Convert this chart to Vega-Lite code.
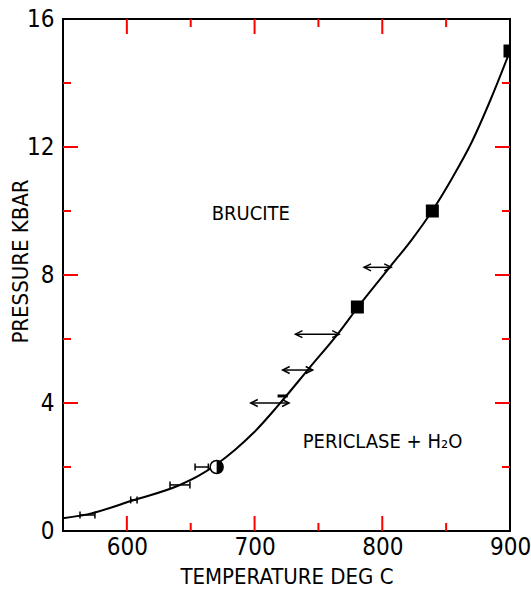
{
  "$schema": "https://vega.github.io/schema/vega-lite/v6.json",
  "width": 447,
  "height": 512,
  "autosize": {"type": "none"},
  "padding": {"left": 63, "top": 19, "right": 21, "bottom": 64},
  "background": "white",
  "config": {
    "view": {"stroke": "black", "strokeWidth": 2},
    "axis": {
      "grid": false, "domain": false, "labelFlush": false,
      "labelFont": "DejaVu Sans Condensed", "labelFontSize": 24, "labelColor": "black",
      "titleFont": "DejaVu Sans Condensed", "titleFontSize": 22, "titleFontWeight": "normal", "titleColor": "black"
    }
  },
  "datasets": {
    "curve": [
      {"t": 550, "p": 0.40}, {"t": 569, "p": 0.52}, {"t": 605, "p": 0.96}, {"t": 641, "p": 1.43},
      {"t": 656, "p": 1.72}, {"t": 670, "p": 2.08}, {"t": 685, "p": 2.55}, {"t": 700, "p": 3.1},
      {"t": 718, "p": 3.9}, {"t": 743, "p": 5.1}, {"t": 766, "p": 6.2}, {"t": 781, "p": 7.0},
      {"t": 807, "p": 8.3}, {"t": 823, "p": 9.1}, {"t": 839, "p": 10.0}, {"t": 855, "p": 11.05},
      {"t": 870, "p": 12.15}, {"t": 885, "p": 13.5}, {"t": 900, "p": 15.0}
    ],
    "xticks": [
      {"v": 600, "kind": "major"}, {"v": 650, "kind": "minor"}, {"v": 700, "kind": "major"},
      {"v": 750, "kind": "minor"}, {"v": 800, "kind": "major"}, {"v": 850, "kind": "minor"}
    ],
    "yticks": [
      {"v": 2, "kind": "minor"}, {"v": 4, "kind": "major"}, {"v": 6, "kind": "minor"}, {"v": 8, "kind": "major"},
      {"v": 10, "kind": "minor"}, {"v": 12, "kind": "major"}, {"v": 14, "kind": "minor"}
    ],
    "errs": [
      {"x1": 563.3, "x2": 575, "y": 0.5},
      {"x1": 603, "x2": 608, "y": 0.97},
      {"x1": 633.8, "x2": 649.4, "y": 1.44},
      {"x1": 653.4, "x2": 663.8, "y": 2.0}
    ],
    "arrows": [
      {"x1": 697, "x2": 727, "y": 4.0},
      {"x1": 722, "x2": 745.5, "y": 5.03},
      {"x1": 732, "x2": 766.3, "y": 6.15},
      {"x1": 785.7, "x2": 807, "y": 8.24}
    ],
    "bar": [{"x1": 718, "x2": 726, "y": 4.22}],
    "squares": [{"t": 780.5, "p": 7.0}, {"t": 839.2, "p": 10.0}, {"t": 900, "p": 15.0}],
    "circle": [{"t": 670.3, "p": 2.0}],
    "labels": [
      {"t": 666.4, "p": 9.72, "text": "BRUCITE"},
      {"t": 737.7, "p": 2.6, "text": "PERICLASE + H₂O"}
    ]
  },
  "resolve": {"axis": {"x": "independent", "y": "independent"}},
  "layer": [
    {
      "data": {"name": "curve"},
      "mark": {"type": "line", "color": "black", "strokeWidth": 2, "interpolate": "monotone"},
      "encoding": {
        "x": {"field": "t", "type": "quantitative", "scale": {"domain": [550, 900], "nice": false, "zero": false},
              "axis": {"orient": "bottom", "values": [600, 700, 800, 900], "ticks": false, "labelPadding": 4,
                       "title": "TEMPERATURE DEG C", "titleY": 52, "titleBaseline": "alphabetic"}},
        "y": {"field": "p", "type": "quantitative", "scale": {"domain": [0, 16], "nice": false, "zero": false},
              "axis": {"orient": "left", "values": [0, 4, 8, 12, 16], "ticks": false, "labelPadding": 9,
                       "title": "PRESSURE KBAR", "titleAngle": 270, "titleX": -36, "titleY": 242,
                       "titleBaseline": "alphabetic", "titleAlign": "center"}}
      }
    },
    {
      "data": {"name": "xticks"},
      "mark": {"type": "tick", "orient": "vertical", "color": "red", "thickness": 2, "opacity": 1, "clip": true},
      "encoding": {
        "x": {"field": "v", "type": "quantitative", "axis": null},
        "y": {"datum": 0, "type": "quantitative", "axis": null},
        "size": {"field": "kind", "type": "ordinal", "scale": {"domain": ["major", "minor"], "range": [30, 16]}, "legend": null}
      }
    },
    {
      "data": {"name": "xticks"},
      "mark": {"type": "tick", "orient": "vertical", "color": "red", "thickness": 2, "opacity": 1, "clip": true},
      "encoding": {
        "x": {"field": "v", "type": "quantitative", "axis": null},
        "y": {"datum": 16, "type": "quantitative", "axis": null},
        "size": {"field": "kind", "type": "ordinal", "scale": {"domain": ["major", "minor"], "range": [30, 16]}, "legend": null}
      }
    },
    {
      "data": {"name": "yticks"},
      "mark": {"type": "tick", "orient": "horizontal", "color": "red", "thickness": 2, "opacity": 1, "clip": true},
      "encoding": {
        "y": {"field": "v", "type": "quantitative", "axis": null},
        "x": {"datum": 550, "type": "quantitative", "axis": null},
        "size": {"field": "kind", "type": "ordinal", "scale": {"domain": ["major", "minor"], "range": [30, 16]}, "legend": null}
      }
    },
    {
      "data": {"name": "yticks"},
      "mark": {"type": "tick", "orient": "horizontal", "color": "red", "thickness": 2, "opacity": 1, "clip": true},
      "encoding": {
        "y": {"field": "v", "type": "quantitative", "axis": null},
        "x": {"datum": 900, "type": "quantitative", "axis": null},
        "size": {"field": "kind", "type": "ordinal", "scale": {"domain": ["major", "minor"], "range": [30, 16]}, "legend": null}
      }
    },
    {
      "data": {"name": "errs"},
      "mark": {"type": "rule", "color": "black", "strokeWidth": 1.5},
      "encoding": {
        "x": {"field": "x1", "type": "quantitative", "axis": null},
        "x2": {"field": "x2"},
        "y": {"field": "y", "type": "quantitative", "axis": null}
      }
    },
    {
      "data": {"name": "errs"},
      "mark": {"type": "point", "shape": "M0,-1L0,1", "filled": false, "stroke": "black", "strokeWidth": 1.5, "size": 49, "opacity": 1},
      "encoding": {
        "x": {"field": "x1", "type": "quantitative", "axis": null},
        "y": {"field": "y", "type": "quantitative", "axis": null}
      }
    },
    {
      "data": {"name": "errs"},
      "mark": {"type": "point", "shape": "M0,-1L0,1", "filled": false, "stroke": "black", "strokeWidth": 1.5, "size": 49, "opacity": 1},
      "encoding": {
        "x": {"field": "x2", "type": "quantitative", "axis": null},
        "y": {"field": "y", "type": "quantitative", "axis": null}
      }
    },
    {
      "data": {"name": "arrows"},
      "mark": {"type": "rule", "color": "black", "strokeWidth": 1.5},
      "encoding": {
        "x": {"field": "x1", "type": "quantitative", "axis": null},
        "x2": {"field": "x2"},
        "y": {"field": "y", "type": "quantitative", "axis": null}
      }
    },
    {
      "data": {"name": "arrows"},
      "mark": {"type": "point", "shape": "M2,-1L0,0L2,1", "filled": false, "stroke": "black", "strokeWidth": 1.5, "size": 49, "opacity": 1},
      "encoding": {
        "x": {"field": "x1", "type": "quantitative", "axis": null},
        "y": {"field": "y", "type": "quantitative", "axis": null}
      }
    },
    {
      "data": {"name": "arrows"},
      "mark": {"type": "point", "shape": "M-2,-1L0,0L-2,1", "filled": false, "stroke": "black", "strokeWidth": 1.5, "size": 49, "opacity": 1},
      "encoding": {
        "x": {"field": "x2", "type": "quantitative", "axis": null},
        "y": {"field": "y", "type": "quantitative", "axis": null}
      }
    },
    {
      "data": {"name": "bar"},
      "mark": {"type": "rule", "color": "black", "strokeWidth": 3},
      "encoding": {
        "x": {"field": "x1", "type": "quantitative", "axis": null},
        "x2": {"field": "x2"},
        "y": {"field": "y", "type": "quantitative", "axis": null}
      }
    },
    {
      "data": {"name": "squares"},
      "mark": {"type": "point", "shape": "square", "filled": true, "color": "black", "size": 169, "opacity": 1, "clip": true},
      "encoding": {
        "x": {"field": "t", "type": "quantitative", "axis": null},
        "y": {"field": "p", "type": "quantitative", "axis": null}
      }
    },
    {
      "data": {"name": "circle"},
      "mark": {"type": "point", "shape": "circle", "filled": true, "fill": "white", "stroke": "black", "strokeWidth": 1.5, "size": 169, "opacity": 1},
      "encoding": {
        "x": {"field": "t", "type": "quantitative", "axis": null},
        "y": {"field": "p", "type": "quantitative", "axis": null}
      }
    },
    {
      "data": {"name": "circle"},
      "mark": {"type": "point", "shape": "M0,-1A1,1 0 0,1 0,1Z", "filled": true, "color": "black", "size": 169, "opacity": 1},
      "encoding": {
        "x": {"field": "t", "type": "quantitative", "axis": null},
        "y": {"field": "p", "type": "quantitative", "axis": null}
      }
    },
    {
      "data": {"name": "labels"},
      "mark": {"type": "text", "font": "DejaVu Sans Condensed", "fontSize": 20, "align": "left", "baseline": "alphabetic", "color": "black"},
      "encoding": {
        "x": {"field": "t", "type": "quantitative", "axis": null},
        "y": {"field": "p", "type": "quantitative", "axis": null},
        "text": {"field": "text"}
      }
    }
  ]
}
